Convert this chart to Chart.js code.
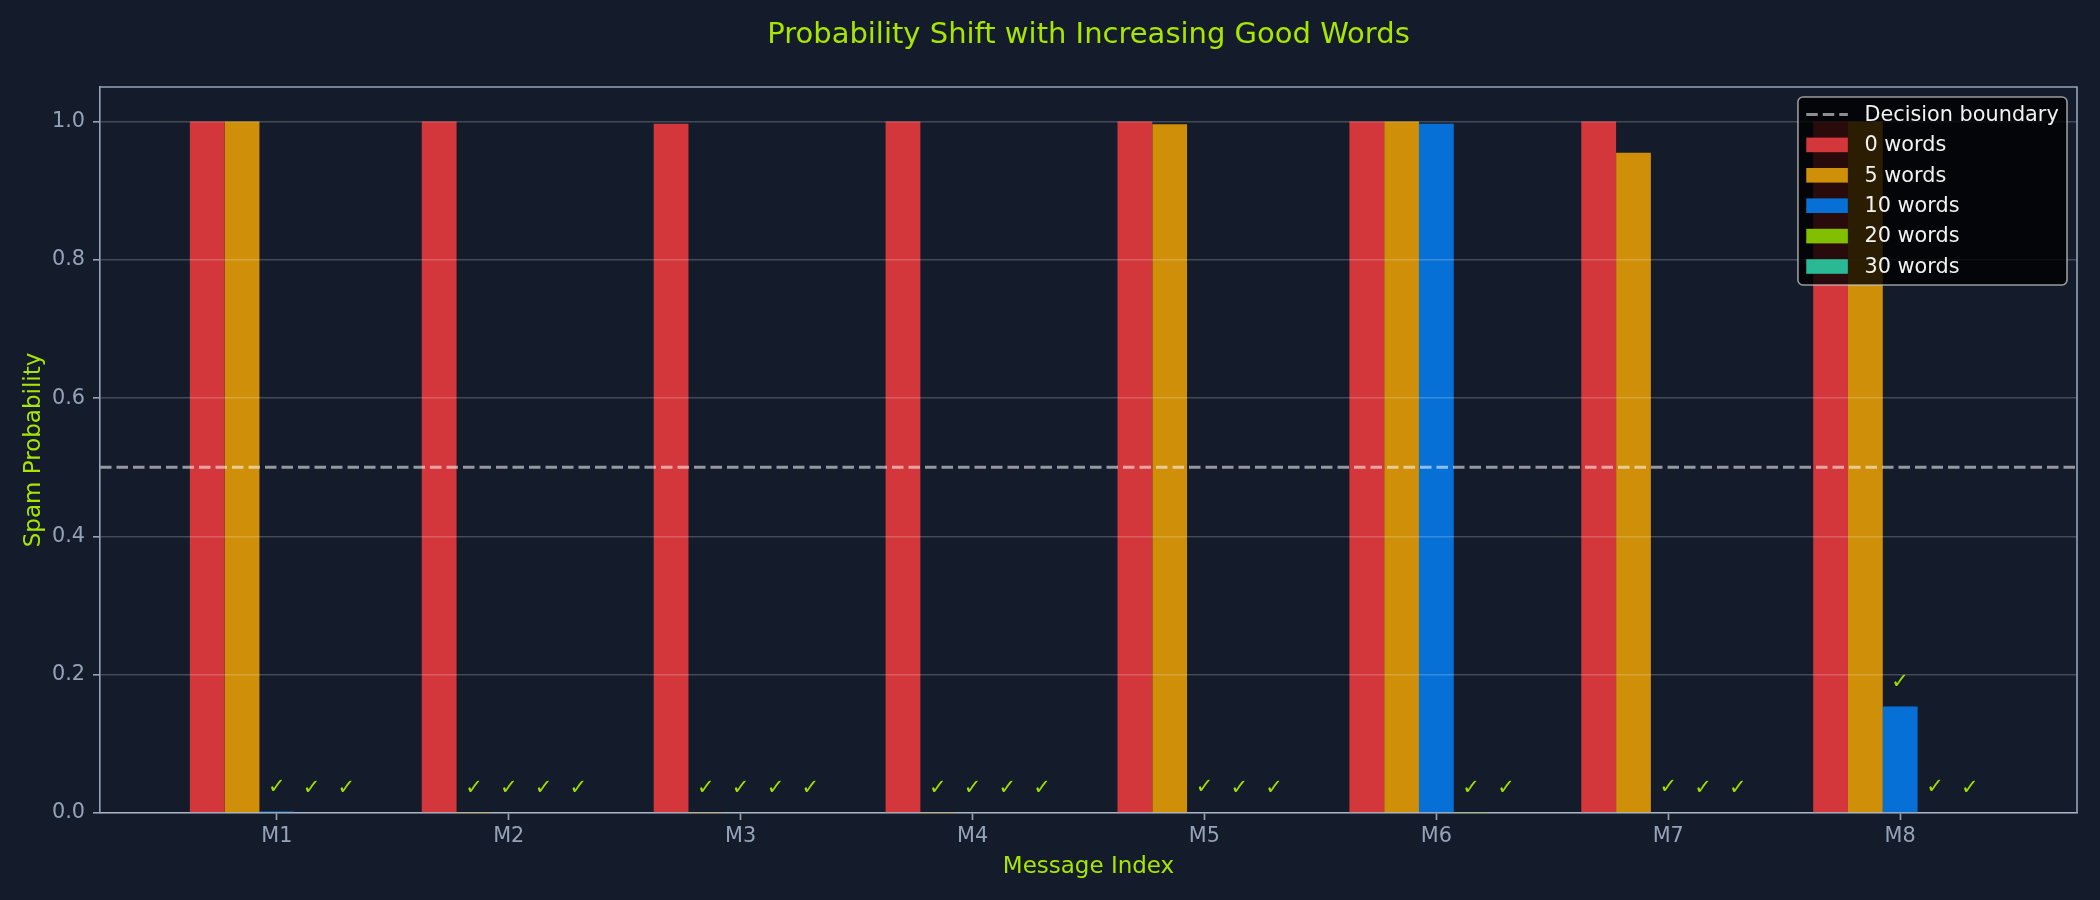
<!DOCTYPE html>
<html>
<head>
<meta charset="utf-8">
<script src="https://cdn.jsdelivr.net/npm/chart.js@4.4.1/dist/chart.umd.min.js"></script>
<style>
  body { margin: 0; background: #141c2b; }
</style>
</head>
<body>
<canvas id="myChart" width="2100" height="900"></canvas>
<script>
// messages on the x axis
const categories = ['M1', 'M2', 'M3', 'M4', 'M5', 'M6', 'M7', 'M8']

// spam probability after adding N good words
const words0 = [1.0, 1.0, 0.997, 1.0, 1.0, 1.0, 1.0, 1.0]
const words5 = [1.0, 0.0003, 0.0002, 0.0002, 0.996, 1.0, 0.955, 1.0]
const words10 = [0.002, 0.0, 0.0, 0.0, 0.001, 0.997, 0.001, 0.154]
const words20 = [0.0, 0.0, 0.0, 0.0, 0.0, 0.0005, 0.0, 0.001]
const words30 = [0.0, 0.0, 0.0, 0.0, 0.0, 0.0, 0.0, 0.0]

const seriesLabels = ['0 words', '5 words', '10 words', '20 words', '30 words']
const seriesColors = ['#d3373b', '#cf8f08', '#0670d6', '#82bf00', '#2bb894']
const seriesValues = [words0, words5, words10, words20, words30]

const yTicks = [0, 0.2, 0.4, 0.6, 0.8, 1.0]
const BOUNDARY = 0.5
const TITLE = 'Probability Shift with Increasing Good Words'

const FONT = "'DejaVu Sans', sans-serif"
const LIME = '#a8e600'
const CHECK = '#9fe000'
const SLATE = '#94a3b8'
const BG = '#141c2b'

const datasets = seriesValues.map((vals, d) => ({
    type: 'bar',
    label: seriesLabels[d],
    data: vals.map((v, i) => ({ x: i, y: v })),
    backgroundColor: seriesColors[d],
    borderWidth: 0,
    categoryPercentage: 0.75,
    barPercentage: 1.0
}))

const backgroundPlugin = {
    id: 'bg',
    beforeDraw(chart) {
        const ctx = chart.ctx
        ctx.save()
        ctx.fillStyle = BG
        ctx.fillRect(0, 0, chart.width, chart.height)
        ctx.restore()
    }
}

const marksPlugin = {
    id: 'marks',
    afterDatasetsDraw(chart) {
        const ctx = chart.ctx
        const area = chart.chartArea
        const y = chart.scales.y

        // decision boundary
        const by = y.getPixelForValue(BOUNDARY)
        ctx.save()
        ctx.strokeStyle = 'rgba(255,255,255,0.55)'
        ctx.lineWidth = 3
        ctx.setLineDash([11.5, 5])
        ctx.beginPath()
        ctx.moveTo(area.left, by)
        ctx.lineTo(area.right, by)
        ctx.stroke()
        ctx.restore()

        // ticks for messages judged as ham
        ctx.save()
        ctx.fillStyle = CHECK
        ctx.font = '21px ' + FONT
        ctx.textAlign = 'center'
        ctx.textBaseline = 'bottom'
        seriesValues.forEach((vals, d) => {
            const meta = chart.getDatasetMeta(d)
            vals.forEach((v, i) => {
                if (v < BOUNDARY) {
                    ctx.fillText('\u2713', meta.data[i].x, y.getPixelForValue(v + 0.02))
                }
            })
        })
        ctx.restore()
    },
    afterDraw(chart) {
        const ctx = chart.ctx
        const area = chart.chartArea

        // top and right spines
        ctx.save()
        ctx.strokeStyle = SLATE
        ctx.lineWidth = 1.6
        ctx.beginPath()
        ctx.moveTo(area.left, area.top)
        ctx.lineTo(area.right, area.top)
        ctx.lineTo(area.right, area.bottom)
        ctx.stroke()

        // title centred over the axes
        ctx.fillStyle = LIME
        ctx.font = '29px ' + FONT
        ctx.textAlign = 'center'
        ctx.textBaseline = 'middle'
        ctx.fillText(TITLE, (area.left + area.right) / 2, 35)
        ctx.restore()

        // legend box
        const entries = [{ label: 'Decision boundary', dashed: true }]
        seriesLabels.forEach((l, d) => entries.push({ label: l, color: seriesColors[d] }))

        ctx.save()
        ctx.font = '20.8px ' + FONT
        let textW = 0
        entries.forEach(e => { textW = Math.max(textW, ctx.measureText(e.label).width) })
        const pad = 8.3, handleLen = 41.6, textPad = 16.6, rowH = 30.4
        const boxW = pad + handleLen + textPad + textW + pad
        const boxH = 17.5 + (entries.length - 1) * rowH + 18.5
        const bx = area.right - 10 - boxW
        const byTop = area.top + 10

        ctx.beginPath()
        ctx.roundRect(bx, byTop, boxW, boxH, 5)
        ctx.fillStyle = 'rgba(0,0,0,0.8)'
        ctx.fill()
        ctx.strokeStyle = 'rgba(200,200,200,0.75)'
        ctx.lineWidth = 1.6
        ctx.stroke()

        entries.forEach((e, k) => {
            const cy = byTop + 17.5 + k * rowH
            const hx = bx + pad
            if (e.dashed) {
                ctx.strokeStyle = 'rgba(255,255,255,0.55)'
                ctx.lineWidth = 3
                ctx.setLineDash([11.5, 5])
                ctx.beginPath()
                ctx.moveTo(hx, cy)
                ctx.lineTo(hx + handleLen, cy)
                ctx.stroke()
                ctx.setLineDash([])
            } else {
                ctx.fillStyle = e.color
                ctx.fillRect(hx, cy - 7.3, handleLen, 14.6)
            }
            ctx.fillStyle = '#f2f2f2'
            ctx.textAlign = 'left'
            ctx.textBaseline = 'middle'
            ctx.fillText(e.label, hx + handleLen + textPad, cy + 1)
        })
        ctx.restore()
    }
}

const config = {
    data: { datasets: datasets },
    options: {
        responsive: false,
        devicePixelRatio: 1,
        animation: false,
        layout: { padding: { left: 0, right: 23, top: 87, bottom: 0 } },
        plugins: {
            legend: { display: false },
            tooltip: { enabled: false },
            title: { display: false }
        },
        scales: {
            x: {
                type: 'linear',
                offset: false,
                min: -0.7625,
                max: 7.7625,
                afterBuildTicks: (scale) => {
                    scale.ticks = categories.map((c, i) => ({ value: i }))
                },
                afterFit: (scale) => { scale.height = 87 },
                ticks: {
                    color: SLATE,
                    font: { family: FONT, size: 20.8 },
                    padding: 4,
                    maxRotation: 0,
                    autoSkip: false,
                    callback: (value) => categories[value]
                },
                grid: {
                    offset: false,
                    drawOnChartArea: false,
                    tickLength: 7,
                    tickColor: SLATE,
                    tickWidth: 1.6
                },
                border: { color: SLATE, width: 1.6 },
                title: {
                    display: true,
                    text: 'Message Index',
                    color: LIME,
                    font: { family: FONT, size: 23 },
                    padding: { top: 0, bottom: 19 }
                }
            },
            y: {
                min: 0,
                max: 1.05,
                afterBuildTicks: (scale) => {
                    scale.ticks = yTicks.map(v => ({ value: v }))
                },
                afterFit: (scale) => { scale.width = 100 },
                ticks: {
                    color: SLATE,
                    font: { family: FONT, size: 20.8 },
                    padding: 8,
                    callback: (value) => value.toFixed(1)
                },
                grid: {
                    z: 1,
                    color: 'rgba(255,255,255,0.2)',
                    lineWidth: 1.6,
                    tickLength: 7,
                    tickColor: SLATE,
                    tickWidth: 1.6
                },
                border: { color: SLATE, width: 1.6, z: 1 },
                title: {
                    display: true,
                    text: 'Spam Probability',
                    color: LIME,
                    font: { family: FONT, size: 23 },
                    padding: { top: 20, bottom: 0 }
                }
            }
        }
    },
    plugins: [backgroundPlugin, marksPlugin]
}

const myChart = new Chart(document.getElementById('myChart'), config)
</script>
</body>
</html>
